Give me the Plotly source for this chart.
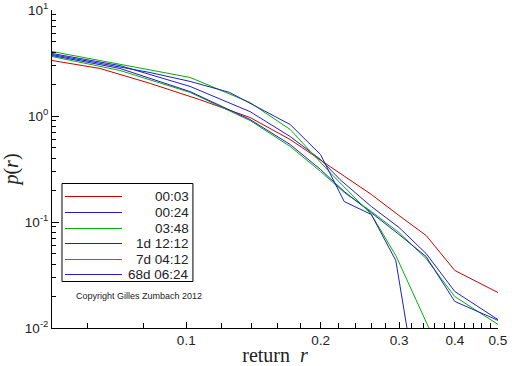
import plotly.graph_objects as go

# ---- data ----
names = ["00:03", "00:24", "03:48", "1d 12:12", "7d 04:12", "68d 06:24"]
colors = ["#cc0000", "#2020c0", "#00b000", "#2020c0", "#00b000", "#2020c0"]

r_0003 = [0.05, 0.064, 0.083, 0.107, 0.139, 0.171, 0.21, 0.237, 0.26, 0.30, 0.345, 0.40, 0.50]
p_0003 = [3.34, 2.81, 2.03, 1.43, 0.968, 0.60, 0.334, 0.236, 0.182, 0.115, 0.0746, 0.0349, 0.0216]

r_0024 = [0.05, 0.071, 0.102, 0.139, 0.171, 0.20, 0.221, 0.26, 0.30, 0.345, 0.40, 0.50]
p_0024 = [3.89, 2.99, 1.90, 1.10, 0.640, 0.389, 0.252, 0.140, 0.0887, 0.0504, 0.0221, 0.0120]

r_0348 = [0.05, 0.071, 0.102, 0.139, 0.171, 0.20, 0.226, 0.26, 0.30, 0.345, 0.40, 0.50]
p_0348 = [3.64, 2.69, 1.67, 0.907, 0.516, 0.300, 0.190, 0.1256, 0.0796, 0.0452, 0.0198, 0.0108]

r_1d = [0.05, 0.071, 0.102, 0.139, 0.171, 0.20, 0.226, 0.26, 0.30, 0.345, 0.40, 0.50]
p_1d = [3.72, 2.81, 1.70, 0.927, 0.538, 0.313, 0.194, 0.1229, 0.0762, 0.0472, 0.0178, 0.0118]

r_7d = [0.05, 0.071, 0.102, 0.139, 0.171, 0.21, 0.26, 0.295, 0.35]
p_7d = [4.06, 3.06, 2.31, 1.34, 0.746, 0.293, 0.1177, 0.0483, 0.0100]

r_68d = [0.05, 0.083, 0.102, 0.125, 0.171, 0.20, 0.226, 0.26, 0.295, 0.3125]
p_68d = [3.80, 2.57, 2.12, 1.67, 0.831, 0.433, 0.156, 0.1177, 0.0433, 0.0100]

series_r = [r_0003, r_0024, r_0348, r_1d, r_7d, r_68d]
series_p = [p_0003, p_0024, p_0348, p_1d, p_7d, p_68d]

x_tickvals = [0.1, 0.2, 0.3, 0.4, 0.5]
x_ticktext = ["0.1", "0.2", "0.3", "0.4", "0.5"]
x_minorvals = [0.06, 0.08, 0.12, 0.14, 0.16, 0.18, 0.22, 0.24, 0.26, 0.28,
               0.32, 0.34, 0.36, 0.38, 0.42, 0.44, 0.46, 0.48]
y_tickvals = [0.01, 0.1, 1, 10]
y_ticktext = ["10<sup>-2</sup>", "10<sup>-1</sup>", "10<sup>0</sup>", "10<sup>1</sup>"]
y_minorvals = [m * d for d in (0.01, 0.1, 1) for m in range(2, 10)]

fig = go.Figure()
for name, col, rr, pp in zip(names, colors, series_r, series_p):
    fig.add_trace(go.Scatter(
        x=rr, y=pp, mode="lines", name=name, showlegend=False,
        line=dict(color=col, width=1),
    ))

# ---- boxed legend (right-aligned labels, as in the reference) ----
leg_x0, leg_x1, leg_y0, leg_y1 = 0.0224, 0.316, 0.1462, 0.4544
row_y = [0.4135, 0.3632, 0.3129, 0.2657, 0.2154, 0.1682]
shapes = [dict(type="rect", xref="paper", yref="paper", x0=leg_x0, x1=leg_x1,
               y0=leg_y0, y1=leg_y1, line=dict(color="black", width=1),
               fillcolor="white", layer="above")]
annotations = []
for name, col, yy in zip(names, colors, row_y):
    shapes.append(dict(type="line", xref="paper", yref="paper", x0=0.0291, x1=0.157,
                       y0=yy, y1=yy, line=dict(color=col, width=1), layer="above"))
    annotations.append(dict(text=name, xref="paper", yref="paper", x=0.3117, y=yy,
                            xanchor="right", yanchor="middle", showarrow=False,
                            font=dict(family="Liberation Sans, Arial", size=13.5, color="#222")))
annotations.append(dict(
    text="Copyright Gilles Zumbach 2012", xref="paper", yref="paper",
    x=0.195, y=0.102, xanchor="center", yanchor="middle", showarrow=False,
    font=dict(family="Liberation Sans, Arial", size=9, color="#222"),
))

axis_font = dict(family="Liberation Sans, Arial", size=13.5, color="#222")

fig.update_layout(
    width=512, height=366,
    margin=dict(l=52, r=14, t=10, b=38, autoexpand=False),
    paper_bgcolor="white", plot_bgcolor="white",
    showlegend=False,
    xaxis=dict(
        type="log", range=[-1.30103, -0.30103], automargin=False,
        tickmode="array", tickvals=x_tickvals, ticktext=x_ticktext,
        ticks="inside", ticklen=6, tickcolor="black",
        minor=dict(tickmode="array", tickvals=x_minorvals, ticks="inside", ticklen=5, tickcolor="black"),
        showline=True, linecolor="black", linewidth=1, mirror=False,
        showgrid=False, zeroline=False, tickfont=axis_font,
        title=dict(text="return  <i>r</i>", standoff=0,
                   font=dict(family="Liberation Serif, Times New Roman", size=20, color="#222")),
    ),
    yaxis=dict(
        type="log", range=[-2, 1], automargin=False,
        tickmode="array", tickvals=y_tickvals, ticktext=y_ticktext,
        ticks="inside", ticklen=7, tickcolor="black",
        minor=dict(tickmode="array", tickvals=y_minorvals, ticks="inside", ticklen=4, tickcolor="black"),
        showline=True, linecolor="black", linewidth=1, mirror=False,
        showgrid=False, zeroline=False, tickfont=axis_font,
        title=dict(text="<i>p</i>(<i>r</i>)",
                   font=dict(family="Liberation Serif, Times New Roman", size=20, color="#222")),
    ),
    shapes=shapes,
    annotations=annotations,
)

# remove the default 8px page margin so the figure sits at the window origin
fig.write_html("out.html", config={"displayModeBar": False},
               post_script="document.body.style.margin='0';document.body.style.overflow='hidden';")
